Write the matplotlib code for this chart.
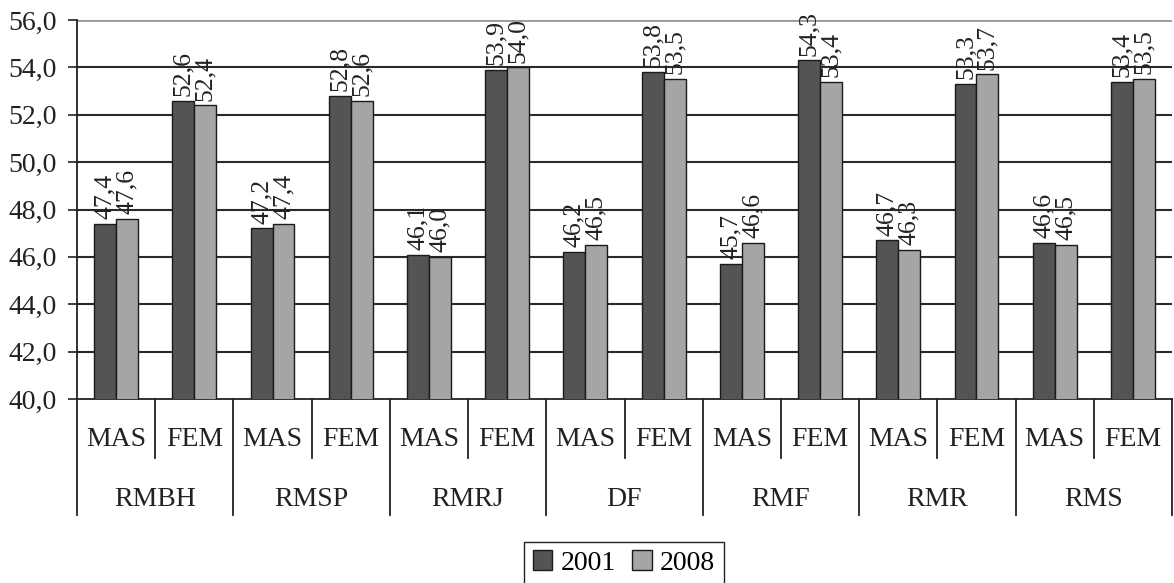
import numpy as np
import matplotlib.pyplot as plt
from matplotlib.patches import Patch

regioes = ['RMBH', 'RMSP', 'RMRJ', 'DF', 'RMF', 'RMR', 'RMS']
sexos = ['MAS', 'FEM']
anos = ['2001', '2008']
v2001 = [47.4, 52.6, 47.2, 52.8, 46.1, 53.9, 46.2, 53.8, 45.7, 54.3, 46.7, 53.3, 46.6, 53.4]
v2008 = [47.6, 52.4, 47.4, 52.6, 46.0, 54.0, 46.5, 53.5, 46.6, 53.4, 46.3, 53.7, 46.5, 53.5]
yticks = [40, 42, 44, 46, 48, 50, 52, 54, 56]

plt.rcParams['font.family'] = ['Liberation Serif', 'DejaVu Serif']
fs = 20
cor1 = '#545454'
cor2 = '#a5a5a7'

fig = plt.figure(figsize=(11.74, 5.83), dpi=100)
ax = fig.add_axes([77/1174, 1-399/583, (1172-77)/1174, 379/583])

x = np.arange(len(v2001))
w = 0.28
b1 = ax.bar(x - w/2, v2001, w, color=cor1, edgecolor='#1a1a1a', linewidth=1, zorder=3)
b2 = ax.bar(x + w/2, v2008, w, color=cor2, edgecolor='#1a1a1a', linewidth=1, zorder=3)

# rótulos dos valores (vertical)
for barras in (b1, b2):
    for r in barras:
        v = r.get_height()
        ax.text(r.get_x() + r.get_width()/2, v + 0.2, f'{v:.1f}'.replace('.', ','),
                rotation=90, ha='center', va='bottom', fontsize=18.5, color='#222222', zorder=4)

ax.set_ylim(40, 56)
ax.set_xlim(-0.5, len(v2001) - 0.5)
ax.set_yticks(yticks)
ax.set_yticklabels([f'{t:.1f}'.replace('.', ',') for t in yticks], fontsize=fs, color='#222222')
ax.tick_params(axis='y', length=6.5, width=1.2, color='#222222', pad=8)
ax.set_xticks([])
for t in yticks[1:-1]:
    ax.axhline(t, color='#2a2a2a', linewidth=1.5, zorder=1)
ax.axhline(56, color='#999999', linewidth=2, zorder=1)
for s in ['top', 'right']:
    ax.spines[s].set_visible(False)
ax.spines['left'].set_linewidth(1.3)
ax.spines['bottom'].set_linewidth(1.3)
ax.spines['left'].set_color('#222222')
ax.spines['bottom'].set_color('#222222')

# eixo de categorias em dois níveis
tr = ax.get_xaxis_transform()
for i in range(len(v2001)):
    ax.text(i, -0.108, sexos[i % 2], transform=tr, ha='center', va='center', fontsize=fs, color='#222222')
for g, nome in enumerate(regioes):
    ax.text(2*g + 0.5, -0.264, nome, transform=tr, ha='center', va='center', fontsize=fs, color='#222222')
    ax.plot([2*g + 0.5, 2*g + 0.5], [0, -0.156], transform=tr, color='#222222', lw=1.3, clip_on=False)
for g in range(len(regioes) + 1):
    ax.plot([2*g - 0.5, 2*g - 0.5], [0, -0.306], transform=tr, color='#222222', lw=1.3, clip_on=False)

handles = [Patch(facecolor=cor1, edgecolor='#1a1a1a'), Patch(facecolor=cor2, edgecolor='#1a1a1a')]
fig.legend(handles, anos, loc='center', bbox_to_anchor=(624/1174, 1-563/583), ncol=2,
           fontsize=fs, frameon=True, fancybox=False, edgecolor='#222222',
           handlelength=0.7, handleheight=0.7, handletextpad=0.3, columnspacing=0.6,
           borderpad=0.3, framealpha=1)

fig.savefig('out.png', dpi=100)
